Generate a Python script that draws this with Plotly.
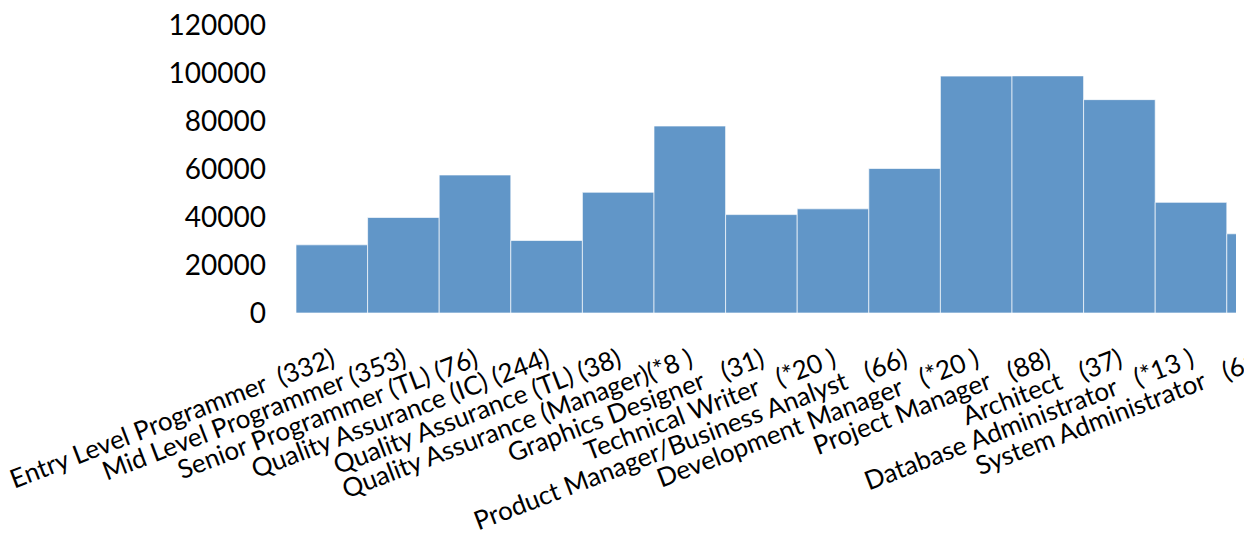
import plotly.graph_objects as go

NBSP = "\u00a0"

# Job titles with survey counts, as shown on the category axis
roles = [
    "Entry Level Programmer" + NBSP + " (332)",
    "Mid Level Programmer (353)",
    "Senior Programmer (TL) (76)",
    "Quality Assurance (IC) (244)",
    "Quality Assurance (TL) (38)",
    "Quality Assurance (Manager)(*8 )",
    "Graphics Designer" + NBSP * 2 + " (31)",
    "Technical Writer" + NBSP * 2 + " (*20 )",
    "Product Manager/Business Analyst" + NBSP * 2 + " (66)",
    "Development Manager" + NBSP * 2 + " (*20 )",
    "Project Manager" + NBSP * 2 + " (88)",
    "Architect" + NBSP * 2 + " (37)",
    "Database Administrator" + NBSP * 2 + " (*13 )",
    "System Administrator" + NBSP * 2 + " (61)",
]

# Average salary per role
salaries = [28400, 39800, 57500, 30200, 50300, 77900, 41000,
            43400, 60200, 98700, 98800, 88900, 46100, 33000]

y_ticks = [0, 20000, 40000, 60000, 80000, 100000, 120000]

positions = list(range(len(roles)))

FIG_W, FIG_H = 1300, 537
LEFT = 296          # left edge of the plotting area (px)
BAR_PX = 71.6       # width of one category (px)
BAR_END_PX = 1236   # right edge of the bar panel (px)

plot_w = FIG_W - LEFT
label_range_end = -0.5 + plot_w / BAR_PX
bar_dom_end = (BAR_END_PX - LEFT) / plot_w
bar_range_end = -0.5 + (BAR_END_PX - LEFT) / BAR_PX

fig = go.Figure()

fig.add_trace(go.Bar(
    x=positions,
    y=salaries,
    width=1.0,
    marker=dict(color="#6196C8",
                line=dict(color="rgba(255,255,255,0.65)", width=1)),
    xaxis="x", yaxis="y",
    showlegend=False,
    hoverinfo="skip",
))

# Empty trace that carries the category labels axis
fig.add_trace(go.Scatter(
    x=positions, y=[None] * len(positions),
    mode="markers", xaxis="x2", yaxis="y",
    showlegend=False, hoverinfo="skip",
))

font_family = "Lato, 'Open Sans', sans-serif"

fig.update_layout(
    width=FIG_W, height=FIG_H,
    margin=dict(l=LEFT, r=0, t=25, b=223.5),
    paper_bgcolor="white", plot_bgcolor="rgba(0,0,0,0)",
    font=dict(family=font_family, color="#000000"),
    xaxis=dict(
        domain=[0, bar_dom_end],
        range=[-0.5, bar_range_end],
        showticklabels=False, showgrid=False, zeroline=False,
        showline=False, ticks="", fixedrange=True, automargin=False,
    ),
    xaxis2=dict(
        domain=[0, 1],
        anchor="y",
        range=[-0.5, label_range_end],
        tickmode="array", tickvals=positions, ticktext=roles,
        tickangle=-21,
        tickfont=dict(family=font_family, size=26, color="#000000"),
        ticklabelstandoff=26,
        showgrid=False, zeroline=False, showline=False, ticks="",
        fixedrange=True, automargin=False,
    ),
    yaxis=dict(
        anchor="x",
        range=[0, 120000],
        tickmode="array", tickvals=y_ticks,
        ticktext=[str(v) for v in y_ticks],
        tickfont=dict(family=font_family, size=28, color="#000000"),
        ticklabelstandoff=29,
        showgrid=False, zeroline=False, showline=False, ticks="",
        fixedrange=True, automargin=False,
    ),
)

fig.write_html(
    "out.html",
    config={"displayModeBar": False},
    post_script="document.body.style.margin='0';document.body.style.overflow='hidden';",
)
